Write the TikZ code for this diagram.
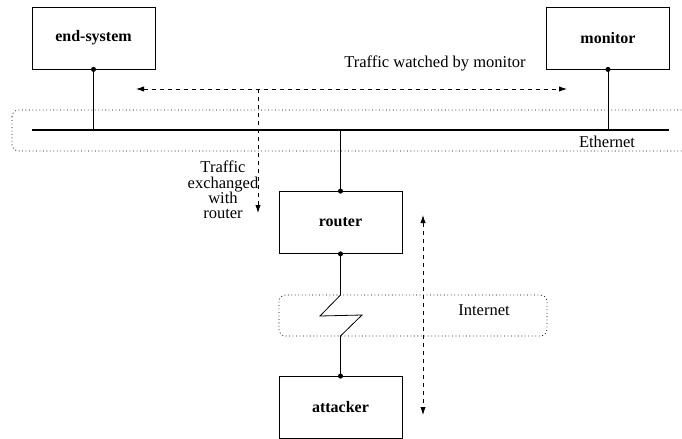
\documentclass[tikz,border=0pt]{standalone}
\usepackage{fontspec}
\setmainfont{Liberation Serif}
\usetikzlibrary{arrows.meta}
\tikzset{
  host/.style={draw, line width=0.6pt, minimum width=92.25pt, minimum height=46.5pt,
    font=\fontsize{12}{14}\selectfont\bfseries},
  link/.style={line width=0.6pt},
  pin/.style={fill, radius=1.9pt},
  flow/.style={dashed, line width=0.6pt, -{Latex[length=6pt,width=4pt]}},
  area/.style={dotted, line width=0.6pt, rounded corners=5pt},
  lbl/.style={font=\fontsize{12.4}{11.6}\selectfont, align=center}
}
\begin{document}
\begin{tikzpicture}[x=0.75pt, y=-0.75pt]
      \clip (0,0) rectangle (682,439);
      % hosts
      \node[host] (es) at (93.5,38) {end-system};
      \node[host] (mon) at (608,38) {monitor};
      \node[host] (rt) at (340.5,222.5) {router};
      \node[host] (att) at (340.5,407.5) {attacker};
      % ethernet
      \draw[area] (12,110) rectangle (700,151);
      \coordinate (ethl) at (32,130);
      \coordinate (ethr) at (669,130);
      \draw[line width=1.5pt] (ethl) -- (ethr);
      \node[lbl] (ethlbl) at (607,142) {Ethernet};
      \draw[link] (es.south) -- (es.south |- ethl);
      \draw[link] (mon.south) -- (mon.south |- ethl);
      \draw[link] (rt.north) -- (rt.north |- ethl);
      % internet
      \draw[area] (279,295) rectangle (547,336);
      \node[lbl] (netlbl) at (484,310) {Internet};
      \coordinate (z1) at (340.5,295);
      \coordinate (z2) at (340.5,336);
      \draw[link] (rt.south) -- (z1) -- (320,316) -- (362,315) -- (z2) -- (att.north);
      \foreach \p in {es.south,mon.south,rt.north,rt.south,att.north}
        \fill (\p) circle[pin];
      % traffic
      \coordinate (wl) at (136,89);
      \coordinate (wr) at (567,89);
      \draw[flow, {Latex[length=6pt,width=4pt]}-{Latex[length=6pt,width=4pt]}] (wl) -- (wr);
      \node[lbl] (wlbl) at (435,63) {Traffic watched by monitor};
      \coordinate (xt) at (258,89);
      \coordinate (xb) at (258,213);
      \draw[flow] (xt) -- (xb);
      \node[lbl] (xlbl) at (223,190) {Traffic\\exchanged\\with\\router};
      \coordinate (at) at (423,215);
      \coordinate (ab) at (423,415);
      \draw[flow, {Latex[length=6pt,width=4pt]}-{Latex[length=6pt,width=4pt]}] (at) -- (ab);
   \end{tikzpicture}
\end{document}
